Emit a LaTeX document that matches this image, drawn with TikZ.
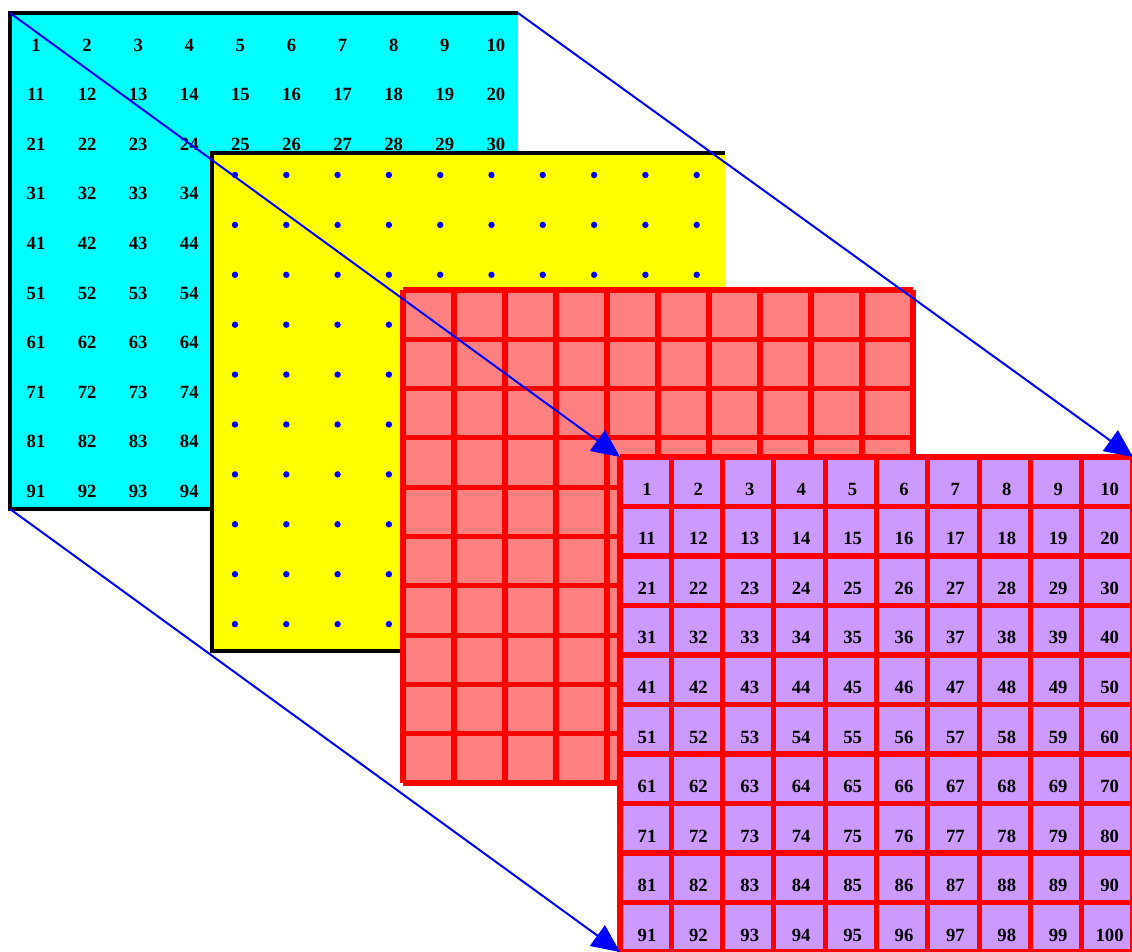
\documentclass[tikz,border=0pt]{standalone}
\usepackage{fontspec}
\setmainfont{Liberation Serif}
\usetikzlibrary{arrows.meta}
\definecolor{planecyan}{RGB}{0,255,255}
\definecolor{planeyellow}{RGB}{255,255,0}
\definecolor{planered}{RGB}{255,128,128}
\definecolor{planeviolet}{RGB}{204,153,255}

\begin{document}
\begin{tikzpicture}[x=0.75pt,y=-0.75pt,
  plane/.style={anchor=north west,inner sep=0pt,outer sep=0pt},
  num/.style={font=\bfseries\fontsize{14}{14}\selectfont},
  rim/.style={line width=3pt,black},
  cellgrid/.style={red,line width=3.8pt},
  proj/.style={blue,line width=1.5pt,-{Triangle[length=21pt,width=19pt]}}]
\useasboundingbox (0,0) rectangle (1132,952);
\clip (0,0) rectangle (1132,952);
% input plane (numbered)
\node[plane,fill=planecyan,minimum width=381pt,minimum height=372pt] (input) at (10,13) {};
\foreach \r in {0,...,9}
  \foreach \c in {1,...,10}{
    \pgfmathtruncatemacro\n{10*\r+\c}
    \node[num] (in-\n) at ({36+51.1*(\c-1)},{45+49.6*\r}) {\n};
  }
\draw[rim] (input.north east) -- (input.north west) -- (input.south west) -- (input.south east);
% dotted plane
\node[plane,fill=planeyellow,minimum width=384.75pt,minimum height=373.5pt] (dots) at (212,153) {};
\foreach \r in {0,...,9}
  \foreach \c in {0,...,9}
    \fill[blue] ({235+51.3*\c},{175+49.9*\r}) circle[radius=2.4pt];
\draw[rim] (dots.north east) -- (dots.north west) -- (dots.south west) -- (dots.south east);
% grid plane
\node[plane,fill=planered,minimum width=382.5pt,minimum height=369.75pt] (cells) at (403,290) {};
\foreach \i in {0,...,10}{
  \draw[cellgrid] ({403+51*\i},290) -- ({403+51*\i},783);
  \draw[cellgrid] (403,{290+49.3*\i}) -- (913,{290+49.3*\i});
}
% output plane (numbered grid)
\node[plane,fill=planeviolet,minimum width=384.75pt,minimum height=371.25pt] (output) at (620,457) {};
\foreach \i in {0,...,10}{
  \draw[cellgrid] ({620+51.3*\i},457) -- ({620+51.3*\i},952);
  \draw[cellgrid] (620,{457+49.5*\i}) -- (1133,{457+49.5*\i});
}
\foreach \r in {0,...,9}
  \foreach \c in {1,...,10}{
    \pgfmathtruncatemacro\n{10*\r+\c}
    \node[num] (out-\n) at ({647+51.4*(\c-1)},{489+49.6*\r}) {\n};
  }
% projection arrows
\draw[proj] (input.north west) -- (output.north west);
\draw[proj] (input.north east) -- (output.north east);
\draw[proj] (input.south west) -- (output.south west);
\end{tikzpicture}
\end{document}
